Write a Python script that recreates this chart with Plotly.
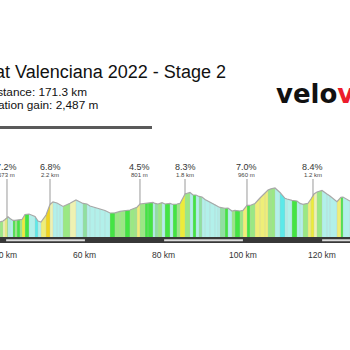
import numpy as np
import plotly.graph_objects as go

# Stage profile: distance (km) and altitude (m)
km = [38.0, 38.60, 39.36, 39.87, 40.37, 40.63, 41.13, 41.89, 42.40, 42.90, 43.66,
      44.17, 44.93, 45.94, 47.46, 48.22, 48.98, 50.25, 51.26, 52.02, 53.03,
      53.79, 54.55, 56.32, 57.84, 59.61, 60.62, 61.38, 62.65, 63.92, 65.18,
      66.45, 67.71, 68.98, 70.25, 71.51, 72.78, 73.28, 74.04, 75.31, 76.07,
      77.33, 77.84, 78.60, 79.61, 80.37, 81.64, 82.40, 83.41, 84.17, 85.44,
      86.70, 87.46, 88.22, 88.98, 89.74, 90.50, 91.76, 93.03, 93.79, 94.30,
      95.56, 96.32, 97.33, 98.09, 99.36, 100.12, 101.13, 101.89, 103.16, 104.42,
      105.69, 106.45, 107.21, 108.22, 109.48, 110.75, 111.26, 112.52, 113.79, 114.55,
      115.31, 116.57, 117.33, 118.09, 118.85, 120.12, 121.38, 122.14, 123.91, 124.92,
      125.43, 127.21, 127.8]
alt_m = [160, 165, 176, 193, 220, 223, 204, 182, 182, 187, 189,
         193, 248, 253, 226, 176, 165, 242, 358, 387, 374,
         352, 336, 371, 407, 369, 363, 341, 325, 308, 292,
         264, 266, 281, 292, 297, 319, 327, 363, 371, 374,
         380, 369, 363, 377, 363, 369, 358, 363, 369, 473,
         490, 462, 462, 446, 440, 413, 387, 360, 336, 325,
         316, 319, 286, 292, 286, 292, 347, 347, 369, 429,
         484, 517, 530, 539, 490, 426, 418, 402, 396, 369,
         360, 371, 418, 473, 495, 512, 473, 451, 388, 437,
         440, 388, 380]

# Categorised climbs
climb_km = [40.37, 51.26, 74.04, 85.44, 101.13, 117.84]
climb_grade = ["7.2%", "6.8%", "4.5%", "8.3%", "7.0%", "8.4%"]
climb_length = ["573 m", "2.2 km", "801 m", "1.8 km", "960 m", "1.2 km"]

tick_km = [40, 60, 80, 100, 120]
tick_text = ["40 km", "60 km", "80 km", "100 km", "120 km"]

title_text = "Volta a la Comunitat Valenciana 2022 - Stage 2"
stat_lines = ["Distance: 171.3 km", "Elevation gain: 2,487 m"]

W = H = 350
X_RANGE = [38.6, 127.21]
Y_RANGE = [-1243, 2607]
FONT = "Liberation Sans, Arial, sans-serif"


def grade_colour(g):
    if g < -4.0:
        return "#5ce9e9"
    if g < -1.0:
        return "#b2f0ea"
    if g < -0.5:
        return "#8fe0a0"
    if g < 0.6:
        return "#44e444"
    if g < 2.0:
        return "#9ae884"
    if g < 4.0:
        return "#eef2b2"
    if g < 6.5:
        return "#eeee78"
    if g < 9.0:
        return "#ecec3a"
    return "#f0d41e"


def py(p):
    """paper y from a pixel row"""
    return 1 - p / H


def px(p):
    return p / W


fig = go.Figure()

# coloured gradient segments
sep_x, sep_y = [], []
for i in range(len(km) - 1):
    x0, x1 = km[i], km[i + 1]
    a0, a1 = alt_m[i], alt_m[i + 1]
    g = (a1 - a0) / ((x1 - x0) * 1000) * 100
    fig.add_trace(go.Scatter(
        x=[x0, x0, x1, x1, x0], y=[0, a0, a1, 0, 0],
        mode="lines", fill="toself", fillcolor=grade_colour(g),
        line=dict(width=0), hoverinfo="skip", showlegend=False))
    sep_x += [x0, x0, None]
    sep_y += [0, a0, None]

fig.add_trace(go.Scatter(x=sep_x, y=sep_y, mode="lines",
                         line=dict(color="rgba(190,190,190,0.55)", width=0.6),
                         hoverinfo="skip", showlegend=False))
# profile outline
fig.add_trace(go.Scatter(x=km, y=alt_m, mode="lines",
                         line=dict(color="#a8a8a8", width=1.2),
                         hoverinfo="skip", showlegend=False))

shapes = []
# distance bar under the profile
shapes.append(dict(type="rect", xref="x", yref="y", x0=X_RANGE[0] - 5, x1=X_RANGE[1] + 5,
                   y0=-66, y1=0, fillcolor="#383838", line=dict(width=0), layer="above"))
for s in tick_km[::2]:
    shapes.append(dict(type="rect", xref="x", yref="y", x0=s + 0.15, x1=s + 20.1,
                       y0=-47, y1=-25, fillcolor="#dcdcdc", line=dict(width=0), layer="above"))
# climb markers
prof_top = np.interp(climb_km, km, alt_m)
for c, top in zip(climb_km, prof_top):
    shapes.append(dict(type="line", xref="x", yref="y", x0=c, x1=c, y0=top, y1=638,
                       line=dict(color="#9a9a9a", width=1)))
# rule under the header
shapes.append(dict(type="line", xref="paper", yref="paper", x0=-0.1, x1=px(152),
                   y0=py(127.5), y1=py(127.5), line=dict(color="#5a5a5a", width=3)))

ann = []
for c, gr, ln in zip(climb_km, climb_grade, climb_length):
    ann.append(dict(x=c, y=775, xref="x", yref="y", text=gr, showarrow=False,
                    font=dict(family=FONT, size=9, color="#333"), xanchor="center", yanchor="middle"))
    ann.append(dict(x=c, y=684, xref="x", yref="y", text=ln, showarrow=False,
                    font=dict(family=FONT, size=6, color="#444"), xanchor="center", yanchor="middle"))
for t, lab in zip(tick_km, tick_text):
    ann.append(dict(x=t, y=-195, xref="x", yref="y", text=lab, showarrow=False,
                    font=dict(family=FONT, size=8.5, color="#333"), xanchor="center", yanchor="middle"))

ann.append(dict(x=px(228), y=py(72), xref="paper", yref="paper", text=title_text,
                showarrow=False, xanchor="right", yanchor="middle",
                font=dict(family=FONT, size=18, color="#111")))
ann.append(dict(x=px(89), y=py(91.5), xref="paper", yref="paper", text=stat_lines[0],
                showarrow=False, xanchor="right", yanchor="middle",
                font=dict(family=FONT, size=11.8, color="#111")))
ann.append(dict(x=px(100), y=py(104.5), xref="paper", yref="paper", text=stat_lines[1],
                showarrow=False, xanchor="right", yanchor="middle",
                font=dict(family=FONT, size=11.8, color="#111")))
ann.append(dict(x=px(274), y=py(94), xref="paper", yref="paper",
                text="velo<span style='color:#ec1c2c'>velo</span>",
                showarrow=False, xanchor="left", yanchor="middle",
                font=dict(family="DejaVu Sans", size=26, color="#111", weight="bold")))

fig.update_layout(
    width=W, height=H, margin=dict(l=0, r=0, t=0, b=0),
    paper_bgcolor="white", plot_bgcolor="white",
    xaxis=dict(range=X_RANGE, visible=False, fixedrange=True),
    yaxis=dict(range=Y_RANGE, visible=False, fixedrange=True),
    shapes=shapes, annotations=ann, showlegend=False,
)

fig.write_html("out.html")
